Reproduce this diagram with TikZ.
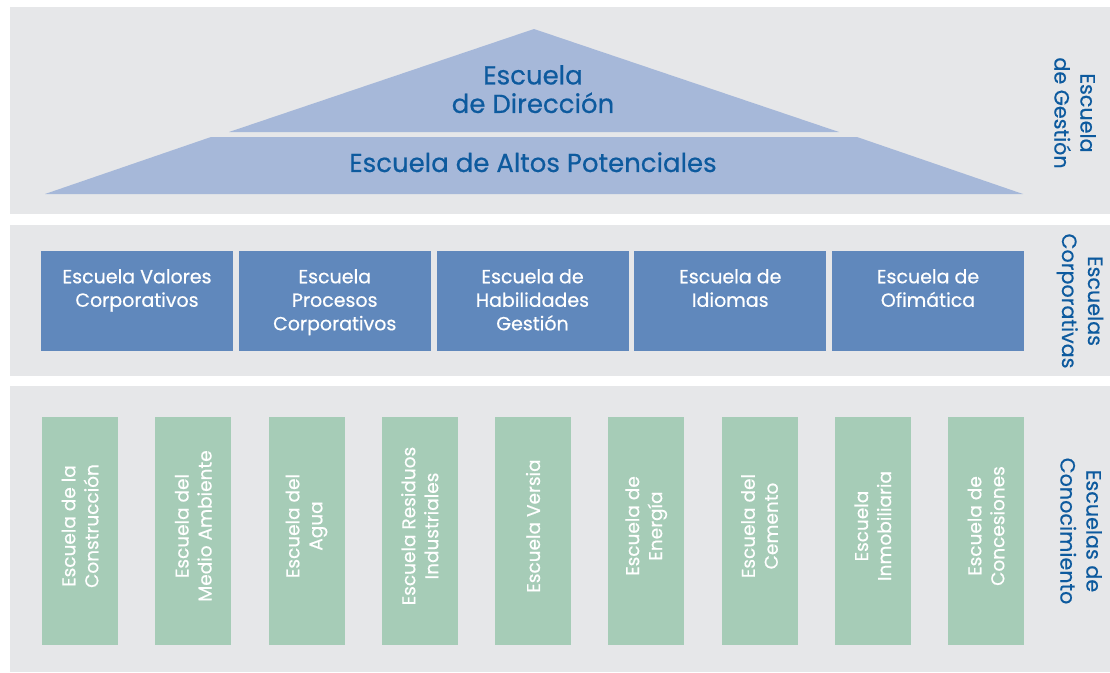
\documentclass[tikz,border=0pt]{standalone}
\usepackage{fontspec}
\setmainfont{Poppins}[FakeBold=0.5]
\definecolor{panelgrey}{HTML}{E6E7E9}
\definecolor{roofblue}{HTML}{A6B8D9}
\definecolor{navy}{HTML}{0D5A9E}
\definecolor{corpblue}{HTML}{6088BC}
\definecolor{schoolgreen}{HTML}{A6CCB7}
\begin{document}
\begin{tikzpicture}[x=1pt,y=-1pt,
  panel/.style={fill=panelgrey},
  roof/.style={fill=roofblue},
  titletext/.style={text=navy,align=center,inner sep=0pt,font=\fontsize{26}{28.5}\selectfont},
  sidetext/.style={text=navy,align=center,inner sep=0pt,rotate=-90,font=\fontsize{20.7}{26}\selectfont},
  corpbox/.style={fill=corpblue,minimum width=192pt,minimum height=100pt,inner sep=0pt},
  corptext/.style={text=white,align=center,inner sep=0pt,anchor=north,font=\fontsize{19}{23.5}\selectfont},
  greenbox/.style={fill=schoolgreen,minimum width=76pt,minimum height=228pt,inner sep=0pt},
  greentext/.style={text=white,align=center,inner sep=0pt,rotate=90,font=\fontsize{18.5}{23}\selectfont}]
\useasboundingbox (0,0) rectangle (1110,672);
\fill[white] (0,0) rectangle (1110,672);
% panels
\fill[panel] (10,7) rectangle (1110,214);
\fill[panel] (10,225) rectangle (1110,376);
\fill[panel] (10,386) rectangle (1110,672);
% roof
\fill[roof] (229,132) -- (534,29) -- (839,132) -- cycle;
\fill[roof] (45,194) -- (211,137) -- (857,137) -- (1023,194) -- cycle;
\node[titletext,anchor=north] (dir) at (533,65) {Escuela\\de Dirección};
\node[titletext,anchor=north] (altos) at (533,152) {Escuela de Altos Potenciales};
% side labels
\node[sidetext] (gestion) at (1075,113) {Escuela\\de Gestión};
\node[sidetext] (corporativas) at (1080,301) {Escuelas\\Corporativas};
\node[sidetext] (conocimiento) at (1081,531) {Escuelas de\\Conocimiento};
% corporate schools
\foreach \i/\t in {0/{Escuela Valores\\Corporativos},1/{Escuela\\Procesos\\Corporativos},2/{Escuela de\\Habilidades\\Gestión},3/{Escuela de\\Idiomas},4/{Escuela de\\Ofimática}}{
  \node[corpbox] (c\i) at ({137+197.75*\i},301) {};
  \node[corptext] (ct\i) at ({137+197.75*\i},269) {\t};
}
% knowledge schools
\foreach \i/\t in {0/{Escuela de la\\Construcción},1/{Escuela del\\Medio Ambiente},2/{Escuela del\\Agua},3/{Escuela Residuos\\Industriales},4/{Escuela Versia},5/{Escuela de\\Energía},6/{Escuela del\\Cemento},7/{Escuela\\Inmobiliaria},8/{Escuela de\\Concesiones}}{
  \node[greenbox] (g\i) at ({80+113.25*\i},531) {};
  \node[greentext] (gt\i) at ({80+113.25*\i},526) {\t};
}
\end{tikzpicture}
\end{document}
